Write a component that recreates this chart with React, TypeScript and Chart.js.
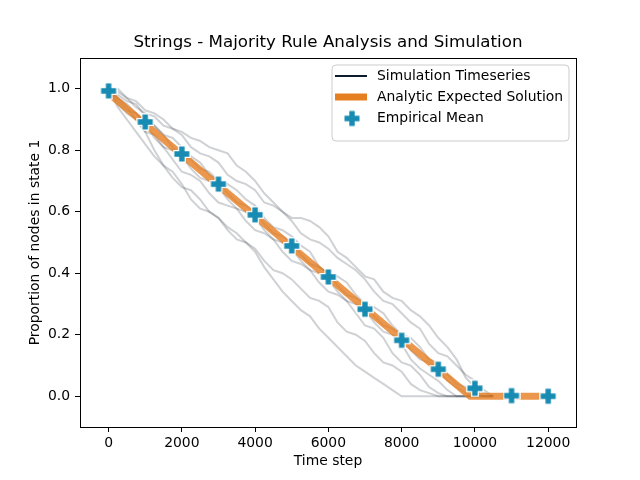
import React, { useEffect, useRef } from "react";
import { Chart, registerables } from "chart.js";
Chart.register(...registerables);

const titleText = "Strings - Majority Rule Analysis and Simulation";
const xLabel = "Time step";
const yLabel = "Proportion of nodes in state 1";
const legendLabels = ["Simulation Timeseries", "Analytic Expected Solution", "Empirical Mean"];

const simTimes = [0, 250, 500, 750, 1000, 1250, 1500, 1750, 2000, 2250, 2500, 2750, 3000, 3250, 3500, 3750, 4000, 4250, 4500, 4750, 5000, 5250, 5500, 5750, 6000, 6250, 6500, 6750, 7000, 7250, 7500, 7750, 8000, 8250, 8500, 8750, 9000, 9250, 9500, 9750, 10000, 10250, 10500];
const sim1 = [1.0, 1.0, 0.97, 0.96, 0.93, 0.92, 0.9, 0.87, 0.86, 0.84, 0.83, 0.81, 0.8, 0.79, 0.75, 0.73, 0.7, 0.66, 0.63, 0.6, 0.58, 0.58, 0.57, 0.55, 0.52, 0.47, 0.45, 0.42, 0.39, 0.38, 0.34, 0.32, 0.31, 0.28, 0.26, 0.23, 0.19, 0.16, 0.12, 0.06, 0.03, 0.01, 0.0];
const sim2 = [1.0, 0.99, 0.97, 0.94, 0.92, 0.91, 0.88, 0.87, 0.85, 0.81, 0.79, 0.78, 0.76, 0.72, 0.7, 0.69, 0.67, 0.63, 0.62, 0.6, 0.57, 0.53, 0.51, 0.5, 0.48, 0.45, 0.43, 0.41, 0.38, 0.34, 0.31, 0.3, 0.27, 0.24, 0.22, 0.17, 0.14, 0.13, 0.1, 0.07, 0.05, 0.02, 0.0];
const sim3 = [1.0, 0.98, 0.96, 0.95, 0.91, 0.88, 0.85, 0.84, 0.81, 0.78, 0.76, 0.72, 0.7, 0.69, 0.67, 0.64, 0.62, 0.58, 0.55, 0.54, 0.52, 0.49, 0.47, 0.42, 0.4, 0.39, 0.37, 0.33, 0.3, 0.29, 0.27, 0.23, 0.2, 0.19, 0.16, 0.12, 0.11, 0.07, 0.04, 0.03, 0.02, 0.0, 0.0];
const sim4 = [1.0, 0.97, 0.95, 0.92, 0.89, 0.88, 0.85, 0.81, 0.78, 0.77, 0.74, 0.73, 0.7, 0.66, 0.63, 0.62, 0.6, 0.56, 0.53, 0.52, 0.5, 0.46, 0.43, 0.42, 0.4, 0.36, 0.33, 0.32, 0.3, 0.26, 0.23, 0.22, 0.2, 0.15, 0.12, 0.11, 0.09, 0.05, 0.03, 0.01, 0.0, 0.0, 0.0];
const sim5 = [1.0, 0.96, 0.93, 0.92, 0.89, 0.84, 0.81, 0.8, 0.78, 0.74, 0.71, 0.7, 0.68, 0.64, 0.61, 0.6, 0.58, 0.54, 0.51, 0.5, 0.48, 0.44, 0.41, 0.4, 0.38, 0.34, 0.31, 0.3, 0.28, 0.24, 0.21, 0.2, 0.17, 0.12, 0.09, 0.07, 0.05, 0.02, 0.0, 0.0, 0.0, 0.0, 0.0];
const sim6 = [1.0, 0.97, 0.94, 0.9, 0.86, 0.85, 0.81, 0.77, 0.73, 0.72, 0.7, 0.66, 0.63, 0.62, 0.61, 0.57, 0.54, 0.53, 0.51, 0.47, 0.44, 0.43, 0.41, 0.37, 0.34, 0.33, 0.31, 0.27, 0.23, 0.22, 0.19, 0.14, 0.11, 0.1, 0.07, 0.03, 0.01, 0.0, 0.0, 0.0, 0.0, 0.0, 0.0];
const sim7 = [1.0, 0.95, 0.92, 0.9, 0.86, 0.8, 0.75, 0.73, 0.69, 0.64, 0.61, 0.6, 0.58, 0.54, 0.51, 0.5, 0.48, 0.44, 0.41, 0.4, 0.38, 0.35, 0.32, 0.31, 0.29, 0.24, 0.21, 0.2, 0.18, 0.14, 0.11, 0.1, 0.08, 0.04, 0.02, 0.01, 0.0, 0.0, 0.0, 0.0, 0.0, 0.0, 0.0];
const sim8 = [1.0, 0.94, 0.9, 0.86, 0.82, 0.78, 0.75, 0.71, 0.68, 0.67, 0.64, 0.6, 0.58, 0.55, 0.53, 0.5, 0.47, 0.42, 0.38, 0.34, 0.31, 0.28, 0.26, 0.22, 0.19, 0.16, 0.13, 0.1, 0.08, 0.06, 0.04, 0.02, 0.0, 0.0, 0.0, 0.0, 0.0, 0.0, 0.0, 0.0, 0.0, 0.0, 0.0];
const simRuns = [sim1, sim2, sim3, sim4, sim5, sim6, sim7, sim8];

const analyticTimes = [0, 9870, 12000];
const analyticValues = [0.985, 0.0, 0.0];

const meanTimes = [0, 1000, 2000, 3000, 4000, 5000, 6000, 7000, 8000, 9000, 10000, 11000, 12000];
const meanValues = [0.993, 0.892, 0.788, 0.69, 0.59, 0.489, 0.388, 0.283, 0.182, 0.088, 0.026, 0.002, 0.0];

const xTickValues = [0, 2000, 4000, 6000, 8000, 10000, 12000];
const yTickValues = [0.0, 0.2, 0.4, 0.6, 0.8, 1.0];

const FONT = '"DejaVu Sans", sans-serif';
const SIM_COLOR = "#0d1b2a";
const ORANGE = "#e67e22";
const BLUE = "#178bb2";

function makePlus(size: number, fill: string): HTMLCanvasElement {
  const c = document.createElement("canvas");
  c.width = size;
  c.height = size;
  const ctx = c.getContext("2d")!;
  const m = size / 2;
  const h = size / 2 - 1.5;
  const w = h * 0.36;
  ctx.beginPath();
  ctx.moveTo(m - w, m - h);
  ctx.lineTo(m + w, m - h);
  ctx.lineTo(m + w, m - w);
  ctx.lineTo(m + h, m - w);
  ctx.lineTo(m + h, m + w);
  ctx.lineTo(m + w, m + w);
  ctx.lineTo(m + w, m + h);
  ctx.lineTo(m - w, m + h);
  ctx.lineTo(m - w, m + w);
  ctx.lineTo(m - h, m + w);
  ctx.lineTo(m - h, m - w);
  ctx.lineTo(m - w, m - w);
  ctx.closePath();
  ctx.lineJoin = "miter";
  ctx.lineWidth = 2.5;
  ctx.strokeStyle = "#ffffff";
  ctx.stroke();
  ctx.fillStyle = fill;
  ctx.fill();
  return c;
}

export default function App() {
  const ref = useRef<HTMLCanvasElement | null>(null);

  useEffect(() => {
    if (!ref.current) return;
    const plus = makePlus(18, BLUE);

    const framePlugin = {
      id: "frameLegend",
      afterDraw(chart: any) {
        const ctx = chart.ctx as CanvasRenderingContext2D;
        const a = chart.chartArea;
        ctx.save();
        ctx.strokeStyle = "#000";
        ctx.lineWidth = 1;
        ctx.strokeRect(Math.round(a.left) + 0.5, Math.round(a.top) + 0.5, Math.round(a.right - a.left), Math.round(a.bottom - a.top));

        // title
        ctx.fillStyle = "#000";
        ctx.font = "16.7px " + FONT;
        ctx.textAlign = "center";
        ctx.textBaseline = "middle";
        ctx.fillText(titleText, (a.left + a.right) / 2, 43);

        // legend
        const bx = 332, by = 65, bw = 237, bh = 76, r = 4;
        ctx.beginPath();
        ctx.moveTo(bx + r, by);
        ctx.lineTo(bx + bw - r, by);
        ctx.quadraticCurveTo(bx + bw, by, bx + bw, by + r);
        ctx.lineTo(bx + bw, by + bh - r);
        ctx.quadraticCurveTo(bx + bw, by + bh, bx + bw - r, by + bh);
        ctx.lineTo(bx + r, by + bh);
        ctx.quadraticCurveTo(bx, by + bh, bx, by + bh - r);
        ctx.lineTo(bx, by + r);
        ctx.quadraticCurveTo(bx, by, bx + r, by);
        ctx.closePath();
        ctx.fillStyle = "rgba(255,255,255,0.85)";
        ctx.fill();
        ctx.strokeStyle = "#cccccc";
        ctx.stroke();

        const rows = [76, 97, 118.5];
        ctx.lineCap = "butt";
        ctx.strokeStyle = SIM_COLOR;
        ctx.lineWidth = 2;
        ctx.beginPath();
        ctx.moveTo(335, rows[0]);
        ctx.lineTo(367, rows[0]);
        ctx.stroke();
        ctx.strokeStyle = ORANGE;
        ctx.lineWidth = 7;
        ctx.beginPath();
        ctx.moveTo(335, rows[1]);
        ctx.lineTo(367, rows[1]);
        ctx.stroke();
        ctx.drawImage(plus, 352 - plus.width / 2, rows[2] - plus.height / 2);

        ctx.fillStyle = "#000";
        ctx.font = "13.9px " + FONT;
        ctx.textBaseline = "middle";
        ctx.textAlign = "left";
        legendLabels.forEach((t, i) => ctx.fillText(t, 377, rows[i]));
        ctx.restore();
      },
    };

    const simDatasets = simRuns.map((run, i) => ({
      label: "sim" + i,
      data: simTimes.map((t, j) => ({ x: t, y: run[j] })),
      showLine: true,
      borderColor: "rgba(13,27,42,0.2)",
      borderWidth: 2,
      pointRadius: 0,
      fill: false,
      order: 3,
    }));

    const chart = new Chart(ref.current, {
      type: "scatter",
      data: {
        datasets: [
          {
            label: legendLabels[2],
            data: meanTimes.map((t, j) => ({ x: t, y: meanValues[j] })),
            showLine: false,
            pointStyle: plus as any,
            pointRadius: 9,
            pointHoverRadius: 9,
            order: 1,
          } as any,
          {
            label: legendLabels[1],
            data: analyticTimes.map((t, j) => ({ x: t, y: analyticValues[j] })),
            showLine: true,
            borderColor: "rgba(230,126,34,0.8)",
            borderWidth: 7,
            borderCapStyle: "butt",
            pointRadius: 0,
            fill: false,
            order: 2,
          },
          ...simDatasets,
        ],
      },
      options: {
        responsive: false,
        animation: false,
        devicePixelRatio: 1,
        layout: { padding: { left: 0, right: 64, top: 58, bottom: 0 } },
        plugins: {
          legend: { display: false },
          tooltip: { enabled: false },
          title: { display: false },
        },
        scales: {
          x: {
            type: "linear",
            min: -780,
            max: 12760,
            afterBuildTicks: (s: any) => {
              s.ticks = xTickValues.map((v) => ({ value: v }));
            },
            afterFit: (s: any) => {
              s.height = 53;
            },
            ticks: {
              color: "#000",
              font: { family: FONT, size: 13.9 },
              padding: 3,
              maxRotation: 0,
              autoSkip: false,
              callback: (v: any) => String(v),
            },
            grid: { drawOnChartArea: false, drawTicks: true, tickLength: 5, color: "#000" },
            border: { display: false },
            title: {
              display: true,
              text: xLabel,
              color: "#000",
              font: { family: FONT, size: 13.9 },
              padding: { top: 0, bottom: 10 },
            },
          },
          y: {
            type: "linear",
            min: -0.1,
            max: 1.1,
            afterBuildTicks: (s: any) => {
              s.ticks = yTickValues.map((v) => ({ value: v }));
            },
            afterFit: (s: any) => {
              s.width = 80;
            },
            ticks: {
              color: "#000",
              font: { family: FONT, size: 13.9 },
              padding: 5,
              autoSkip: false,
              callback: (v: any) => Number(v).toFixed(1),
            },
            grid: { drawOnChartArea: false, drawTicks: true, tickLength: 5, color: "#000" },
            border: { display: false },
            title: {
              display: true,
              text: yLabel,
              color: "#000",
              font: { family: FONT, size: 13.9 },
              padding: { top: 27, bottom: 0 },
            },
          },
        },
      } as any,
      plugins: [framePlugin],
    });

    return () => chart.destroy();
  }, []);

  return (
    <div style={{ position: "absolute", left: 0, top: 0, width: 640, height: 480, background: "#fff" }}>
      <canvas ref={ref} width={640} height={480} style={{ display: "block", width: 640, height: 480 }} />
    </div>
  );
}
